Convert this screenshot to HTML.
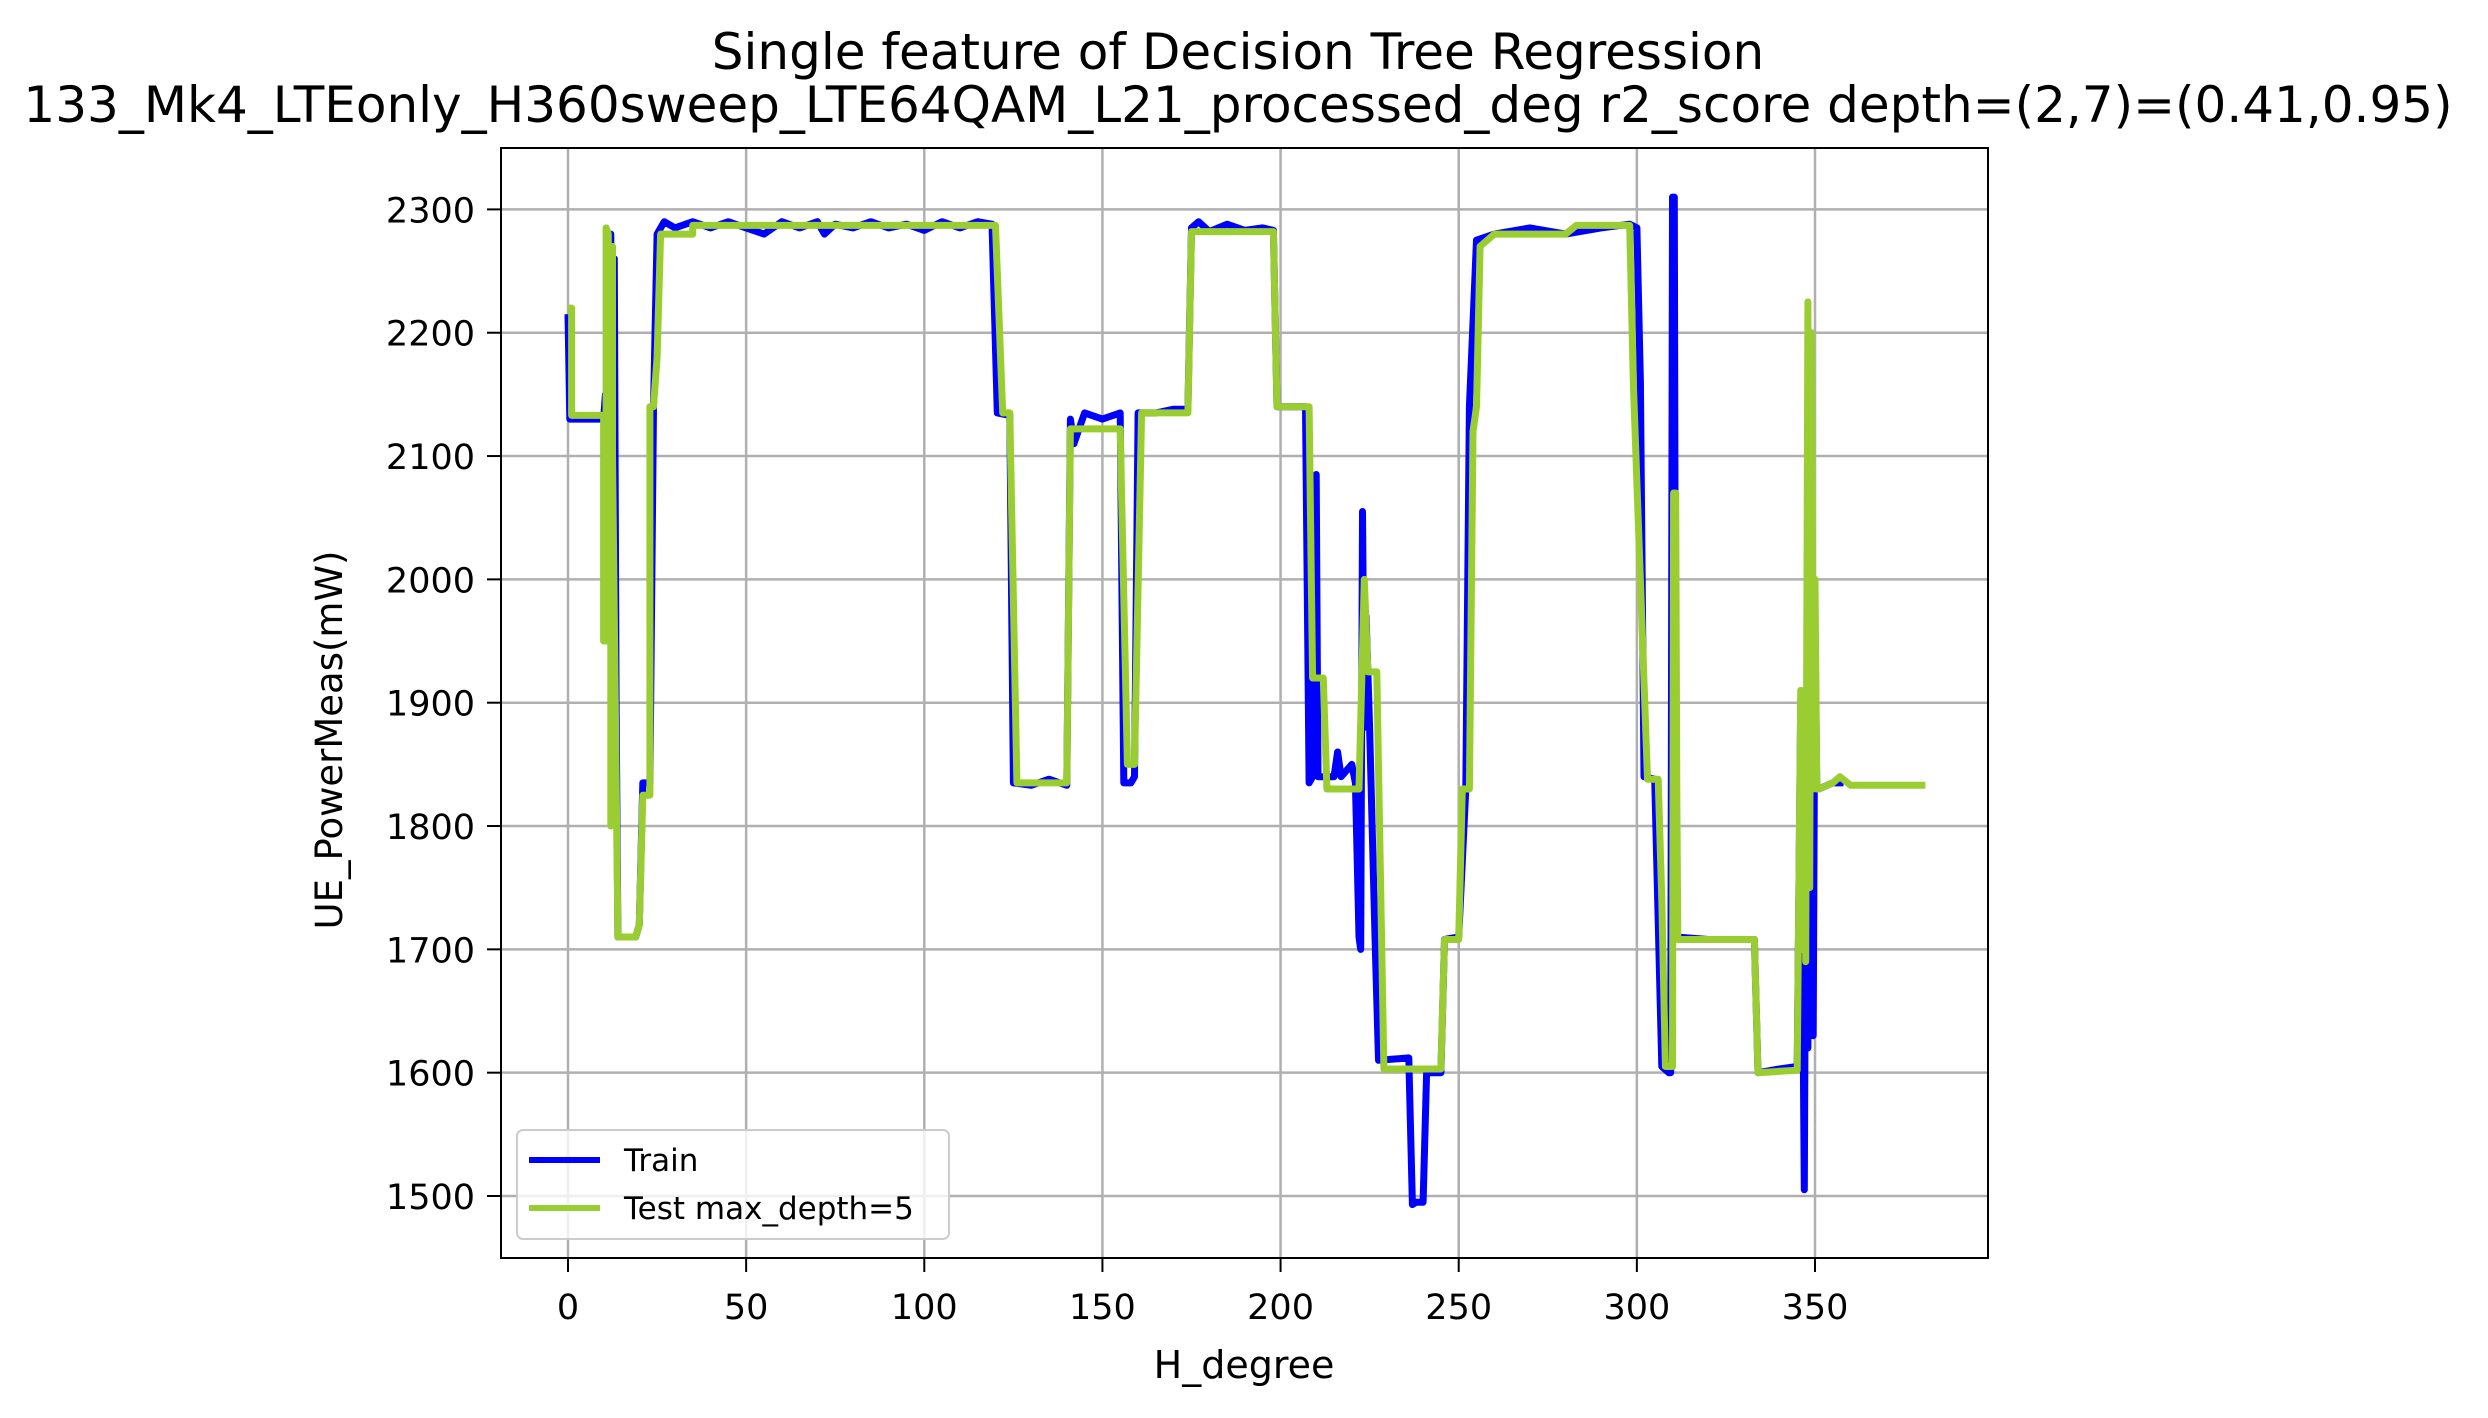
<!DOCTYPE html>
<html><head><meta charset="utf-8"><style>
html,body{margin:0;padding:0;background:#fff}
svg{display:block;font-family:"DejaVu Sans","Liberation Sans",sans-serif}
</style></head><body>
<svg id="chart" width="2488" height="1418" viewBox="0 0 2488 1418" xmlns="http://www.w3.org/2000/svg">
<rect width="2488" height="1418" fill="#fff"/>
<text x="1238" y="69" text-anchor="middle" font-size="50">Single feature of Decision Tree Regression</text>
<text x="1238" y="122" text-anchor="middle" font-size="50">133_Mk4_LTEonly_H360sweep_LTE64QAM_L21_processed_deg r2_score depth=(2,7)=(0.41,0.95)</text>
<g id="grid"></g>
<g id="ticks"></g>
<g id="series"></g>
<rect x="501" y="148" width="1487" height="1110" fill="none" stroke="#000" stroke-width="2"/>
<text x="1244" y="1378" text-anchor="middle" font-size="38">H_degree</text>
<text x="0" y="0" transform="translate(342,740) rotate(-90)" text-anchor="middle" font-size="37">UE_PowerMeas(mW)</text>
<g>
<rect x="517" y="1130" width="432" height="109" rx="6" fill="#fff" fill-opacity="0.8" stroke="#ccc" stroke-width="2"/>
<line x1="529" y1="1160" x2="600" y2="1160" stroke="#0000ff" stroke-width="6"/>
<text x="624" y="1171" font-size="31">Train</text>
<line x1="529" y1="1208" x2="600" y2="1208" stroke="#9acd32" stroke-width="6"/>
<text x="624" y="1219" font-size="31">Test max_depth=5</text>
</g>
</svg>
<script>
const xTicks=[0,50,100,150,200,250,300,350];
const yTicks=[1500,1600,1700,1800,1900,2000,2100,2200,2300];
const trainX=[
0,0.5,10,10.5,11,11.5,12,12.5,13,13.5,
14,19,20,21,23,24,25,27,30,35,
40,45,50,55,60,65,70,72,75,80,
85,90,95,100,105,110,115,119,120.5,124,
125,130,135,140,141,142,145,150,155,156,
158,159,160,165,170,174,175,177,180,185,
190,195,198,199,207,208,209,210,210.5,215,
216,217,220,221,222,222.5,223,223.5,224,225,
226.5,227.5,236,237,238,240,241,245,246,250,
252,253,255,260,270,280,290,298,300,301,
302,305,307,309,309.5,310,310.5,311,320,333,
334,340,345,346,346.5,347,347.5,348,348.5,349,
349.5,350,350.5,351,355,358];
const trainY=[
2215,2130,2130,2150,2100,1950,2280,1950,2260,1900,
1710,1710,1720,1835,1835,2140,2280,2290,2285,2290,
2285,2290,2285,2280,2290,2285,2290,2280,2288,2285,
2290,2285,2288,2283,2290,2285,2290,2288,2135,2133,
1835,1833,1838,1833,2130,2110,2135,2130,2135,1835,
1835,1840,2135,2135,2138,2138,2285,2290,2282,2288,
2283,2285,2283,2140,2140,1835,1840,2085,1840,1840,
1860,1840,1850,1835,1710,1700,2055,1880,1970,1880,
1710,1610,1612,1493,1495,1495,1600,1600,1708,1710,
1830,2140,2275,2280,2285,2280,2285,2288,2285,2160,
1840,1838,1605,1600,1600,2310,2310,1710,1708,1708,
1600,1603,1605,1900,1700,1505,1830,1620,1950,1830,
1630,1960,1830,1830,1835,1835];
const testX=[0,1,1,10,10,10.7,10.7,11.3,11.3,12,12,12.5,12.5,14,14,19,20,21,23,23,24,25,26,35,35,120,122,124,126,140,141,155,157,159,161,174,175,198,199,208,209,212,213,222,223.5,224.5,225.5,227,229,245,246,250,251,253,254,255,256,260,280,283,298,299,303,306,307,308,310,310.3,310.6,310.9,311.2,311.5,333,334,345,346,346.6,347,347.4,348,348.5,349,349.5,350,350.5,351,355,357,360,381];
const testY=[2220,2220,2133,2133,1950,1950,2285,2280,2100,2270,1800,2270,2100,1710,1710,1710,1720,1825,1825,2140,2140,2180,2280,2280,2287,2287,2135,2135,1835,1835,2122,2122,1850,1850,2135,2135,2282,2282,2140,2140,1920,1920,1830,1830,2000,1925,1925,1925,1603,1603,1708,1708,1830,1830,2120,2140,2270,2280,2280,2287,2287,2160,1838,1838,1740,1605,1605,2070,1830,2070,1830,1708,1708,1600,1602,1910,1700,1910,1690,2225,1750,2200,1830,2000,1830,1830,1835,1840,1833,1833];
const X=v=>568+(v-0)*(1815-568)/350;
const Y=v=>1196-(v-1500)*(1196-209.4)/800;
const NS="http://www.w3.org/2000/svg";
const grid=document.getElementById('grid'),ticks=document.getElementById('ticks'),series=document.getElementById('series');
function mk(tag,attrs,parent){const e=document.createElementNS(NS,tag);for(const k in attrs)e.setAttribute(k,attrs[k]);parent.appendChild(e);return e;}
xTicks.forEach(t=>{
  const g=mk('line',{x1:X(t),x2:X(t),y1:148,y2:1258,stroke:'#b0b0b0','stroke-width':2.5},grid);
  
  
  const tk=mk('line',{x1:X(t),x2:X(t),y1:1258,y2:1272,stroke:'#000','stroke-width':2},ticks);
  
  
  const tx=mk('text',{x:X(t),y:1319,'text-anchor':'middle','font-size':35},ticks);
  tx.textContent=t;
  
  
});
yTicks.forEach(t=>{
  const g=mk('line',{x1:501,x2:1988,y1:Y(t),y2:Y(t),stroke:'#b0b0b0','stroke-width':2.5},grid);
  
  
  const tk=mk('line',{x1:487,x2:501,y1:Y(t),y2:Y(t),stroke:'#000','stroke-width':2},ticks);
  
  
  const tx=mk('text',{x:475,y:Y(t)+13,'text-anchor':'end','font-size':35},ticks);
  tx.textContent=t;
  
  
});
function pts(xs,ys){const n=Math.min(xs.length,ys.length);const out=[];for(let i=0;i<n;i++)out.push(X(xs[i]).toFixed(1)+','+Y(ys[i]).toFixed(1));return out.join(' ');}
const tr=mk('polyline',{points:pts(trainX,trainY),fill:'none',stroke:'#0000ff','stroke-width':7,'stroke-linejoin':'round'},series);


const te=mk('polyline',{points:pts(testX,testY),fill:'none',stroke:'#9acd32','stroke-width':7,'stroke-linejoin':'round'},series);


</script>
</body></html>
